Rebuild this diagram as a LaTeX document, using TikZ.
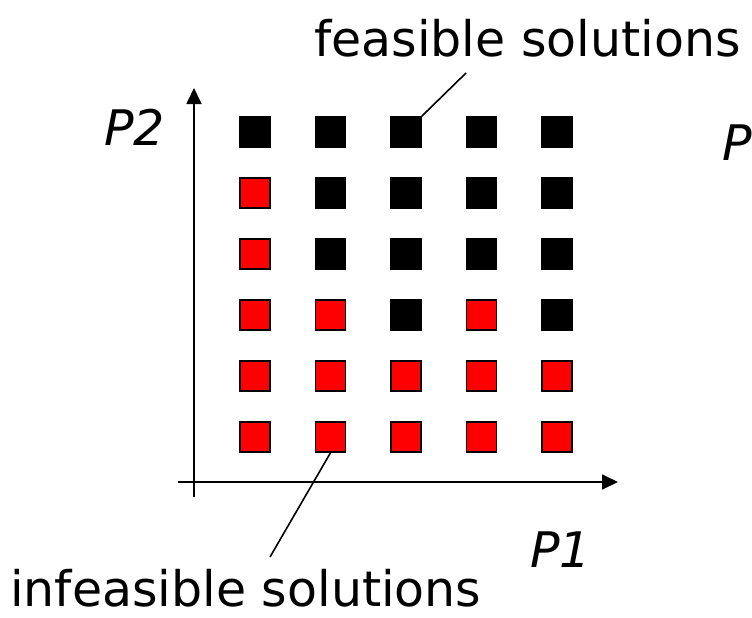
\documentclass[tikz,border=0pt]{standalone}
\usepackage{fontspec}
\setmainfont{DejaVu Sans}
\usetikzlibrary{arrows.meta}

\begin{document}
\begin{tikzpicture}[x=1pt, y=-1pt, >={Triangle[length=16pt,width=15pt]},
    cell/.style={draw=black, line width=1.5pt, minimum size=30pt, inner sep=0pt},
    lbl/.style={anchor=base west, inner sep=0pt, font=\fontsize{49}{54}\selectfont}]
    \useasboundingbox (0,0) rectangle (752,618);

    % axes
    \draw[->, line width=1.8pt] (194,497) -- (194,88);
    \draw[->, line width=1.8pt] (178,482) -- (618,482);

    % grid of solutions, rows from top
    \foreach \pat [count=\i] in {{black,black,black,black,black},
                                 {red,black,black,black,black},
                                 {red,black,black,black,black},
                                 {red,red,black,red,black},
                                 {red,red,red,red,red},
                                 {red,red,red,red,red}} {
        \foreach \c [count=\j] in \pat {
            \node[cell, fill=\c] (s-\i-\j) at ({179.5+75.5*\j}, {71+61*\i}) {};
        }
    }

    \node[lbl] (feas) at (314,57) {feasible solutions};
    \node[lbl] (infeas) at (10,606) {infeasible solutions};
    \node[lbl] (p2) at (104,145) {\itshape P2};
    \node[lbl] (p1) at (530,567) {\itshape P1};
    \node[lbl] (p3) at (722,160) {\itshape P};

    \coordinate (feas-end) at (466,73);
    \coordinate (infeas-end) at (270,557);
    \draw[line width=1.6pt] (s-1-3.north east) -- (feas-end);
    \draw[line width=1.6pt] (s-6-2.south) -- (infeas-end);
\end{tikzpicture}
\end{document}
